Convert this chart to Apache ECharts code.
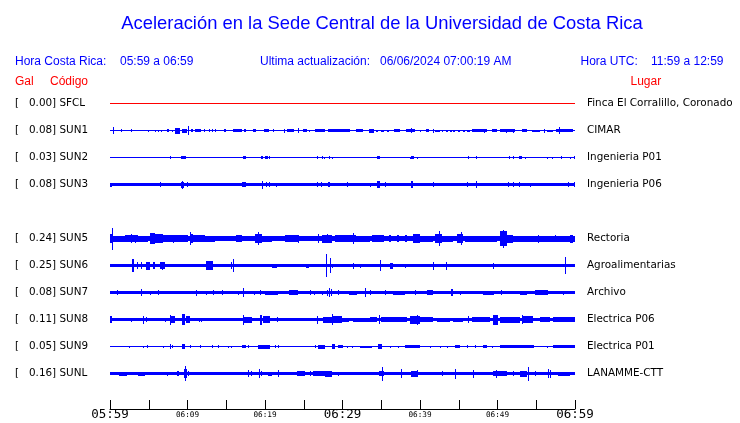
<!DOCTYPE html>
<html><head><meta charset="utf-8">
<script src="https://cdn.jsdelivr.net/npm/echarts@6/dist/echarts.min.js"></script>
<style>html,body{margin:0;padding:0;background:#fff}#c{width:740px;height:423px}</style>
</head><body><div id="c"></div><script>
// ---- data ----
const titleText = 'Aceleración en la Sede Central de la Universidad de Costa Rica';
const localTime = '05:59 a 06:59';
const utcTime = '11:59 a 12:59';
const lastUpdate = '06/06/2024 07:00:19 AM';
const tickLabels = ['05:59','06:09','06:19','06:29','06:39','06:49','06:59'];
// row order (null = empty row, station without data)
const stations = ['SFCL','SUN1','SUN2','SUN3',null,'SUN5','SUN6','SUN7','SUN8','SUN9','SUNL'];
const galValues = ['0.00','0.08','0.03','0.08',null,'0.24','0.25','0.08','0.11','0.05','0.16'];
const places = ['Finca El Corralillo, Coronado','CIMAR','Ingenieria P01','Ingenieria P06',null,'Rectoria','Agroalimentarias','Archivo','Electrica P06','Electrica P01','LANAMME-CTT'];
// background noise half-amplitude of each trace (display units)
const baseAmp = [0.5,0.5,0.5,1.7,null,2.7,1.4,1.7,1.7,0.7,1.4];
// bursts: [start minute, end minute, half-amplitude]
const evSFCL = [];
const evSUN1 = [[0.4,0.5,3.5],[1.4,1.5,1.3],[2.7,2.8,1.3],[4.85,4.95,1.0],[5.8,5.9,1.0],[6.2,6.3,1.0],[6.55,6.65,1.0],[7.3,7.6,1.7],[7.95,8.05,1.0],[8.45,9.0,3.0],[9.25,9.9,2.0],[10.1,10.2,4.3],[10.45,10.75,1.7],[10.95,11.8,1.7],[12.15,12.3,1.3],[12.75,12.85,1.3],[13.1,13.2,1.3],[13.55,13.65,1.3],[14.7,14.95,1.3],[15.9,17.0,1.7],[17.3,17.6,1.3],[18.5,18.8,1.3],[19.9,20.5,1.7],[21.05,21.2,1.3],[22.45,22.6,2.0],[22.8,23.7,1.7],[24.2,24.3,2.3],[24.95,25.4,1.3],[25.65,25.75,1.0],[26.45,27.7,1.3],[28.1,30.3,1.3],[30.3,30.9,1.3],[30.85,30.95,1.7],[31.75,32.7,1.3],[33.45,34.1,2.0],[34.3,34.6,1.0],[35.0,35.3,1.0],[35.7,36.0,1.0],[36.65,37.4,1.3],[38.15,39.4,1.3],[38.9,39.0,2.3],[40.0,40.1,1.0],[40.8,41.1,1.3],[41.7,41.8,2.0],[41.95,42.6,1.0],[42.8,43.0,1.0],[43.4,43.6,1.0],[43.9,44.1,1.0],[44.3,44.5,1.0],[44.9,45.1,1.0],[45.5,45.8,1.0],[46.1,46.4,1.0],[46.7,48.6,1.3],[48.3,48.4,2.0],[49.25,49.9,1.3],[50.3,52.3,1.3],[51.1,51.2,2.0],[51.95,52.05,2.0],[53.1,53.75,1.3],[54.4,55.5,1.0],[56.0,56.1,2.0],[56.35,57.2,1.0],[57.6,59.8,1.7],[57.95,58.05,3.3]];
const evSUN2 = [[7.7,7.8,1.3],[9.15,9.75,1.3],[17.2,17.5,1.3],[19.5,19.8,1.3],[20.0,20.35,1.3],[20.5,20.6,1.3],[26.7,26.8,1.3],[27.3,27.4,1.3],[27.65,27.75,1.0],[28.25,28.35,1.3],[28.7,28.8,1.0],[30.75,30.85,0.7],[32.55,32.65,0.7],[34.4,34.85,1.3],[38.7,38.8,1.0],[38.9,39.25,1.3],[39.65,39.75,1.0],[43.8,43.9,0.7],[46.15,46.25,1.3],[47.2,47.3,1.3],[50.5,50.6,0.7],[50.9,51.0,0.7],[51.5,51.6,1.3],[52.05,52.15,1.3],[52.8,53.2,1.3],[53.6,53.7,1.0],[54.45,54.55,0.7],[56.35,56.45,1.0],[57.05,57.15,1.0],[58.25,58.35,1.3],[58.7,58.8,0.7],[59.35,59.45,1.0],[59.85,59.95,1.3]];
const evSUN3 = [[0,0.3,2.0],[6.45,6.55,2.3],[9.15,9.6,3.0],[9.25,9.35,4.0],[9.9,10.0,2.3],[17.0,17.5,2.7],[19.55,19.65,4.0],[20.15,20.25,2.7],[20.5,20.6,2.3],[21.4,21.5,2.0],[26.7,26.8,2.3],[27.2,27.3,2.3],[28.1,28.35,2.7],[30.6,30.7,2.3],[33.55,33.65,2.0],[34.4,34.8,3.3],[35.45,35.55,2.3],[38.8,39.1,3.3],[41.7,41.8,2.3],[46.1,46.25,2.7],[47.2,47.3,3.3],[51.35,51.5,2.7],[52.0,52.1,2.7],[52.8,52.95,2.7],[54.25,54.35,2.0],[59.1,59.2,2.3],[59.9,60,2.7]];
const evSUN5 = [[0,0.45,4.7],[0.25,0.35,11],[0.45,1.9,3.0],[1.9,3.6,3.3],[2.75,2.85,4.7],[3.25,3.35,4.0],[3.6,4.9,3.0],[5.15,5.8,5.3],[5.8,6.9,4.3],[6.9,8.4,3.7],[8.15,8.25,4.0],[8.4,10.1,3.3],[10.3,10.4,6.7],[10.4,10.75,4.7],[10.75,12.2,3.7],[12.2,13.5,3.0],[16.3,17.0,3.3],[17.0,18.3,2.9],[18.7,19.6,4.7],[19.1,19.2,6.3],[19.6,20.9,3.0],[21.3,22.6,2.9],[22.6,24.3,3.2],[24.25,24.35,4.0],[24.7,26.5,2.9],[26.9,27.0,4.3],[27.3,28.6,4.0],[28.05,28.15,4.7],[29.0,31.8,3.3],[31.35,31.45,5.3],[31.8,33.5,3.0],[33.75,35.3,3.3],[34.8,35.3,3.5],[36.0,36.3,3.2],[37.0,37.3,3.2],[38.0,38.3,3.2],[39.14,40.0,4.7],[40.0,41.7,3.0],[41.94,42.8,4.7],[42.45,42.55,7.3],[42.8,44.3,3.0],[44.73,45.6,4.7],[45.35,45.45,6.7],[45.8,49.9,3.0],[50.3,51.2,7.3],[50.7,50.8,9.0],[51.2,52.05,4.0],[52.05,55.5,3.0],[55.2,55.3,4.0],[55.5,60,3.0],[57.4,57.5,3.3],[59.3,59.7,4.0]];
const evSUN6 = [[0,2.0,1.7],[2.85,3.1,6.7],[3.5,3.6,3.3],[4.05,4.15,3.3],[4.7,5.2,4.0],[5.55,5.85,3.3],[6.45,7.1,3.3],[6.7,6.8,4.0],[7.95,8.05,1.7],[9.45,9.55,1.7],[9.8,9.9,1.7],[12.45,13.35,4.3],[13.95,14.05,1.7],[14.6,14.7,1.7],[15.65,15.75,3.3],[15.9,16.0,6.7],[20.85,21.5,2.0],[22.15,22.25,1.7],[25.35,25.7,2.0],[27.85,27.95,11.5],[28.4,28.5,7.3],[28.7,28.8,2.0],[29.68,31.8,1.7],[31.3,31.4,3.0],[32.25,32.35,2.0],[33.5,33.6,1.7],[34.8,34.9,5.3],[36.1,36.5,3.0],[37.55,37.65,1.7],[38.1,38.2,2.0],[41.7,41.8,4.0],[43.4,43.5,4.0],[46.65,46.75,1.7],[47.7,47.85,1.7],[49.45,49.55,3.0],[50.95,51.05,1.7],[51.95,52.05,1.7],[58.7,58.8,8.3]];
const evSUN7 = [[0.95,1.05,2.7],[3.3,3.4,1.7],[4.0,4.1,3.3],[5.15,5.25,2.0],[6.2,6.3,2.3],[7.7,7.8,1.7],[11.15,11.25,3.0],[12.45,12.55,2.0],[13.3,13.4,2.7],[14.45,14.55,2.7],[16.55,16.65,2.0],[17.2,17.35,4.3],[18.6,18.7,2.0],[19.35,19.45,2.3],[20.0,21.7,2.0],[23.1,24.3,2.7],[25.8,25.9,2.7],[26.35,26.45,2.0],[27.3,27.4,2.0],[27.95,28.05,3.0],[28.2,28.3,4.7],[28.55,28.65,3.3],[29.4,29.5,2.7],[30.9,31.9,2.0],[32.85,32.95,4.3],[33.5,33.6,2.3],[35.45,35.55,2.3],[36.55,38.1,2.0],[39.3,39.45,2.7],[40.95,41.7,2.7],[42.55,42.65,1.7],[44.0,44.2,3.3],[45.1,45.2,2.0],[48.15,49.5,2.0],[50.5,50.6,2.3],[52.9,53.8,2.0],[54.85,56.55,2.3],[58.5,58.6,2.0]];
const evSUN8 = [[0,0.25,3.3],[2.75,2.85,2.0],[4.25,4.35,4.0],[4.7,4.8,2.7],[7.05,7.15,2.0],[7.7,7.8,5.0],[7.9,8.4,3.3],[9.25,9.7,5.7],[9.8,10.3,3.3],[11.45,11.55,2.0],[11.8,11.9,2.0],[13.3,13.4,1.7],[15.3,15.4,1.7],[17.15,17.25,5.0],[17.3,18.3,3.0],[19.35,19.6,5.0],[19.7,20.6,3.3],[21.6,21.7,2.7],[22.8,22.9,1.7],[24.9,25.0,1.7],[26.65,26.75,4.0],[27.5,28.6,3.0],[28.7,28.8,5.7],[28.8,29.9,3.3],[29.9,30.8,2.0],[31.4,33.5,2.0],[33.5,34.4,2.7],[34.7,34.8,4.7],[35.0,38.3,2.3],[38.7,40.0,4.0],[39.6,39.7,5.0],[40.0,41.7,2.7],[42.15,43.9,2.0],[44.3,45.6,2.0],[46.2,46.3,3.7],[46.7,49.0,2.3],[49.45,50.1,5.0],[50.3,52.9,3.0],[53.1,53.2,4.3],[53.3,54.6,3.3],[55.5,56.8,2.3],[57.2,60,2.7]];
const evSUN9 = [[2.45,2.55,1.0],[4.3,4.4,1.0],[4.8,4.9,1.3],[6.85,6.95,1.0],[7.7,7.8,2.3],[7.95,8.05,1.7],[9.25,9.7,2.3],[10.3,10.4,1.3],[11.6,11.7,1.3],[13.1,13.2,1.3],[13.95,14.05,1.3],[15.25,15.35,1.0],[15.6,15.7,1.0],[17.0,17.6,1.7],[17.85,17.95,1.3],[19.15,20.65,2.0],[21.3,21.4,1.7],[21.7,21.8,1.3],[26.45,26.55,1.3],[26.9,27.75,2.0],[28.6,29.05,2.3],[29.45,30.1,1.7],[30.55,30.65,1.0],[31.2,31.3,1.0],[32.25,33.8,1.0],[34.6,35.05,2.3],[36.1,36.2,1.0],[37.2,37.3,1.0],[38.05,40.0,1.3],[41.3,41.4,1.0],[42.55,42.65,1.0],[43.45,43.55,1.0],[44.5,45.2,1.3],[46.0,46.1,1.3],[47.1,47.2,1.3],[48.15,48.6,1.3],[49.25,49.35,1.0],[50.3,54.65,1.3],[56.35,56.45,1.0],[57.2,60,1.3]];
const evSUNL = [[0.4,0.65,1.7],[1.1,2.15,2.0],[3.65,4.5,2.0],[7.3,7.4,2.0],[8.6,8.9,2.3],[9.6,9.9,4.7],[9.65,9.75,7.3],[10.1,10.2,2.7],[12.7,17.4,1.7],[17.85,17.95,3.3],[18.25,18.35,2.3],[19.2,19.3,4.7],[19.5,19.6,2.7],[20.4,20.85,2.0],[21.7,21.8,3.3],[24.1,25.15,2.3],[25.8,25.9,2.7],[26.25,27.7,2.3],[27.75,28.6,3.0],[29.4,29.5,2.0],[29.68,32.2,1.7],[32.7,32.8,1.7],[34.75,35.3,2.7],[35.05,35.15,7.0],[37.6,37.7,4.3],[38.9,39.8,3.0],[39.55,39.65,3.3],[41.1,42.6,1.7],[42.8,42.9,2.7],[44.5,44.6,5.0],[44.95,45.6,1.7],[46.85,46.95,4.0],[49.45,51.2,2.7],[49.85,49.95,4.0],[51.95,52.05,2.3],[52.9,53.8,3.0],[53.95,54.05,7.0],[54.8,54.9,2.7],[56.5,56.6,4.7],[56.8,56.9,4.0],[57.85,59.3,2.0]];
const events = [evSFCL,evSUN1,evSUN2,evSUN3,null,evSUN5,evSUN6,evSUN7,evSUN8,evSUN9,evSUNL];

// ---- layout / style ----
const ROW = 27, GRID_TOP = 90, PLOT_L = 110, PLOT_W = 465;
const BLUE = '#0000ff', RED = '#ff0000';
const traceColors = stations.map((s, i) => i === 0 ? RED : BLUE);

function traceSeries(slot) {
  const yc = ROW / 2 + ROW * slot;
  const data = [[0, 60, baseAmp[slot]]].concat(events[slot]);
  return {
    type: 'custom', xAxisIndex: 0, yAxisIndex: 0, silent: true, animation: false,
    renderItem(params, api) {
      const a = api.value(2);
      const p1 = api.coord([api.value(0), yc - a]);
      const p2 = api.coord([api.value(1), yc + a]);
      const x1 = Math.round(p1[0]), x2 = Math.max(x1 + 1, Math.round(p2[0]));
      const y1 = Math.round(p1[1]), y2 = Math.max(y1 + 1, Math.round(p2[1]));
      return { type: 'rect', shape: { x: x1, y: y1, width: x2 - x1, height: y2 - y1 },
        style: { fill: traceColors[slot] } };
    },
    data
  };
}

const series = [];
stations.forEach((s, i) => { if (s) series.push(traceSeries(i)); });
series.push({ type: 'line', xAxisIndex: 1, yAxisIndex: 1, data: [], silent: true });

const sansH = '"Liberation Sans", Arial, sans-serif';
const dj = '"DejaVu Sans", sans-serif';
const mono = '"DejaVu Sans Mono", monospace';
function txt(x, y, text, font, fill, align) {
  return { type: 'text', x, y, silent: true,
    style: { text, font, fill, align: align || 'left', verticalAlign: 'middle', textAlign: align || 'left', textVerticalAlign: 'middle' } };
}
const graphics = [
  txt(382, 24, titleText, '18.4px ' + sansH, BLUE, 'center'),
  txt(15, 61.5, 'Hora Costa Rica:', '12px ' + sansH, BLUE),
  txt(120, 61.5, localTime, '12px ' + sansH, BLUE),
  txt(260, 61.5, 'Ultima actualización:', '12px ' + sansH, BLUE),
  txt(380, 61.5, lastUpdate, '12px ' + sansH, BLUE),
  txt(580.5, 61.5, 'Hora UTC:', '12px ' + sansH, BLUE),
  txt(651, 61.5, utcTime, '12px ' + sansH, BLUE),
  txt(15, 81.5, 'Gal', '12px ' + sansH, RED),
  txt(50, 81.5, 'Código', '12px ' + sansH, RED),
  txt(630.5, 81.5, 'Lugar', '12px ' + sansH, RED)
];
stations.forEach((s, i) => {
  if (!s) return;
  const y = GRID_TOP + ROW / 2 + ROW * i;
  graphics.push(txt(15, y, '[   ' + galValues[i] + '] ' + s, '10.4px ' + dj, '#000'));
  graphics.push(txt(587, y, places[i], '10.4px ' + dj, '#000'));
});

const option = {
  backgroundColor: '#fff',
  animation: false,
  grid: [
    { left: PLOT_L, top: GRID_TOP, width: PLOT_W, height: ROW * stations.length },
    { left: PLOT_L, top: 380, width: PLOT_W, height: 29 }
  ],
  xAxis: [
    { gridIndex: 0, type: 'value', min: 0, max: 60, show: false },
    { gridIndex: 1, type: 'value', min: 0, max: 60, interval: 5,
      axisLine: { show: true, lineStyle: { color: '#000', width: 1 } },
      axisTick: { show: true, inside: true, length: 9, lineStyle: { color: '#000' } },
      splitLine: { show: false },
      axisLabel: {
        show: true, margin: 0, showMinLabel: true, showMaxLabel: true, hideOverlap: false,
        formatter: v => {
          if (v % 10 !== 0) return '';
          const lab = tickLabels[v / 10];
          return v % 30 === 0 ? '{big|' + lab + '}' : '{small|' + lab + '}';
        },
        rich: {
          big: { fontFamily: mono, fontSize: 12.5, lineHeight: 12, color: '#000' },
          small: { fontFamily: mono, fontSize: 7.7, lineHeight: 12, color: '#000' }
        }
      } }
  ],
  yAxis: [
    { gridIndex: 0, type: 'value', min: 0, max: ROW * stations.length, inverse: true, show: false },
    { gridIndex: 1, type: 'value', min: 0, max: 1, show: false }
  ],
  graphic: graphics,
  series
};
const chart = echarts.init(document.getElementById('c'));
chart.setOption(option);
</script></body></html>
